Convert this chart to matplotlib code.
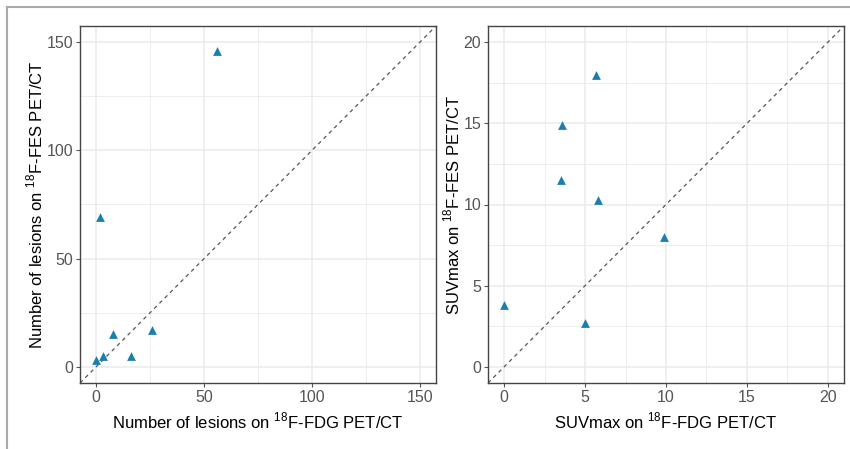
import numpy as np
import matplotlib
matplotlib.use('Agg')
import matplotlib.pyplot as plt
from matplotlib.lines import Line2D

plt.rcParams['font.family'] = ['Liberation Sans', 'DejaVu Sans']
plt.rcParams['mathtext.fontset'] = 'custom'
plt.rcParams['mathtext.rm'] = 'Liberation Sans'

# lesion counts
fdg_lesions = [56, 2, 8, 26, 16, 3, 0]
fes_lesions = [146, 69, 15, 17, 5, 5, 3]

# SUVmax
fdg_suv = [5.7, 3.6, 3.5, 5.8, 9.9, 0.0, 5.0]
fes_suv = [18.0, 14.9, 11.5, 10.3, 8.0, 3.8, 2.7]

lesion_ticks = [0, 50, 100, 150]
suv_ticks = [0, 5, 10, 15, 20]

pt_col = '#1a7fae'
grid_col = '#ebebeb'

def style_panel(ax, ticks, lim, xlab, ylab):
    ax.plot(lim, lim, ls=(0, (3, 3)), color='#555555', lw=0.9, zorder=2)
    ax.set_xticks(ticks)
    ax.set_yticks(ticks)
    step = ticks[1] - ticks[0]
    minor = [t + step / 2 for t in [ticks[0] - step] + ticks]
    ax.set_xticks(minor, minor=True)
    ax.set_yticks(minor, minor=True)
    ax.set_xlim(lim)
    ax.set_ylim(lim)
    ax.grid(which='major', color=grid_col, lw=1.1)
    ax.grid(which='minor', color=grid_col, lw=0.6)
    ax.set_axisbelow(True)
    ax.tick_params(which='minor', length=0)
    ax.tick_params(which='major', length=3, color='#555555', labelsize=11.5,
                   labelcolor='#555555', pad=2)
    for s in ax.spines.values():
        s.set_color('#444444')
        s.set_linewidth(1.0)
    ax.set_xlabel(xlab, fontsize=12, labelpad=4)
    ax.set_ylabel(ylab, fontsize=12, labelpad=1)

fig = plt.figure(figsize=(8.5, 4.49), dpi=100)
W, H = 850, 449
ax1 = fig.add_axes([80 / W, 1 - 383 / H, 356 / W, 357 / H])
ax2 = fig.add_axes([488 / W, 1 - 383 / H, 356 / W, 357 / H])

ax1.scatter(fdg_lesions, fes_lesions, marker='^', s=40, color=pt_col, zorder=3, lw=0)
style_panel(ax1, lesion_ticks, (-7.5, 157.5),
            r'Number of lesions on $^{18}$F-FDG PET/CT',
            r'Number of lesions on $^{18}$F-FES PET/CT')

ax2.scatter(fdg_suv, fes_suv, marker='^', s=40, color=pt_col, zorder=3, lw=0)
style_panel(ax2, suv_ticks, (-1, 21),
            r'SUVmax on $^{18}$F-FDG PET/CT',
            r'SUVmax on $^{18}$F-FES PET/CT')

# outer frame lines
fig.add_artist(Line2D([7 / W, 1], [1 - 7 / H, 1 - 7 / H], color='#aaaaaa', lw=1.5))
fig.add_artist(Line2D([7 / W, 7 / W], [1 - 7 / H, 0], color='#aaaaaa', lw=1.5))

fig.savefig('out.png', dpi=100)
